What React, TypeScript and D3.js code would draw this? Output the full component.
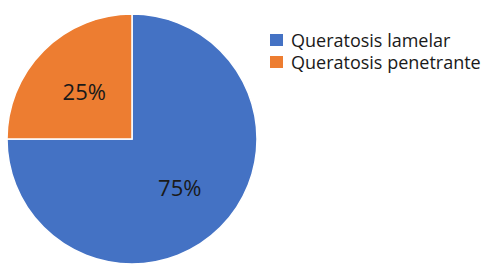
import React from 'react';
import * as d3 from 'd3';

const categories = ['Queratosis lamelar', 'Queratosis penetrante'];
const values = [75, 25];
const colors = ['#4472c4', '#ed7d31'];

const width = 504;
const height = 276;
const cx = 132;
const cy = 139;
const radius = 125;

const App = () => {
  const pie = d3.pie<number>().sort(null).value(d => d);
  const arcs = pie(values);
  const arc = d3.arc<d3.PieArcDatum<number>>().innerRadius(0).outerRadius(radius);
  const labelArc = d3.arc<d3.PieArcDatum<number>>().innerRadius(radius * 0.54).outerRadius(radius * 0.54);
  const total = d3.sum(values);

  return (
    <svg
      width={width}
      height={height}
      style={{ position: 'absolute', left: 0, top: 0, background: '#fff' }}
      fontFamily="'Open Sans', 'Noto Sans', sans-serif"
    >
      <g transform={`translate(${cx},${cy})`}>
        {arcs.map((a, i) => (
          <path key={i} d={arc(a) || ''} fill={colors[i]} stroke="#fff" strokeWidth={1.5} />
        ))}
        {arcs.map((a, i) => {
          const [x, y] = labelArc.centroid(a);
          return (
            <text key={i} x={x} y={y} textAnchor="middle" dominantBaseline="central" fontSize="22" fill="#1a1a1a">
              {Math.round((a.data / total) * 100)}%
            </text>
          );
        })}
      </g>

      {/* Legend */}
      {categories.map((c, i) => (
        <g key={c} transform={`translate(270,${34 + i * 22})`}>
          <rect x={0} y={0} width={13} height={12} fill={colors[i]} />
          <text x={21} y={6} dominantBaseline="central" fontSize="18" fill="#1a1a1a">
            {c}
          </text>
        </g>
      ))}
    </svg>
  );
};

export default App;
